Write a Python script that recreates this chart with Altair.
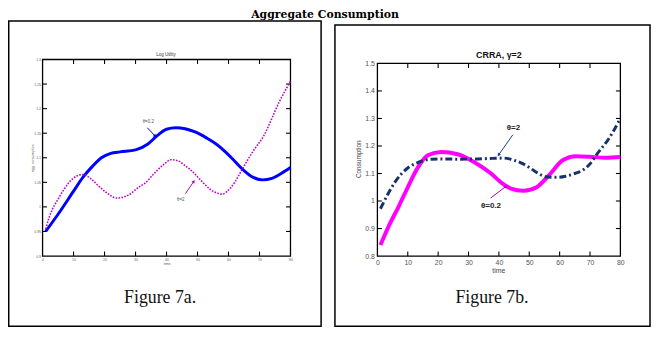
import math
import altair as alt
import pandas as pd

# ---------------- data ----------------
time_ticks = [0, 10, 20, 30, 40, 50, 60, 70, 80]
left_y_ticks = [0.9, 0.95, 1.0, 1.05, 1.1, 1.15, 1.2, 1.25, 1.3]
right_y_ticks = [0.8, 0.9, 1.0, 1.1, 1.2, 1.3, 1.4, 1.5]

# Figure 7a, Log Utility: theta=0.2 (blue solid)
left_t_a = [1, 5, 10, 13, 16, 19, 22, 25, 30, 34, 37, 40, 43, 46, 49, 53, 56, 59, 62, 65, 68, 71, 74, 77, 80]
left_c_a = [0.95, 0.985, 1.032, 1.06, 1.082, 1.1, 1.109, 1.112, 1.116, 1.128, 1.145, 1.158, 1.161, 1.159,
            1.153, 1.14, 1.128, 1.112, 1.093, 1.074, 1.06, 1.055, 1.058, 1.068, 1.08]
# Figure 7a, Log Utility: theta=2 (magenta dotted)
left_t_b = [1, 2.2, 5.4, 8.6, 11, 13, 16, 18, 20.4, 24, 27.7, 31, 33, 36, 39, 41.5, 43.6, 46, 48, 52, 54,
            56.4, 58, 59.6, 62, 64, 68, 71.3, 76.4, 80]
left_c_b = [0.955, 0.98, 1.02, 1.05, 1.063, 1.066, 1.055, 1.043, 1.03, 1.018, 1.024, 1.04, 1.048, 1.068,
            1.086, 1.096, 1.094, 1.084, 1.074, 1.048, 1.036, 1.028, 1.026, 1.032, 1.05, 1.072, 1.114,
            1.144, 1.214, 1.256]
# Figure 7b, CRRA gamma=2: theta=2 (navy dash-dot)
right_t_a = [1, 3.7, 6, 10, 13.4, 17.8, 22, 26.5, 33, 38, 41.6, 45, 48, 50.3, 53, 55.6, 59, 62, 65, 67.6,
             70, 72, 76.4, 80]
right_c_a = [0.972, 1.03, 1.072, 1.12, 1.14, 1.152, 1.153, 1.152, 1.153, 1.155, 1.156, 1.148, 1.135, 1.12,
             1.1, 1.088, 1.086, 1.09, 1.1, 1.112, 1.135, 1.166, 1.23, 1.3]
# Figure 7b, CRRA gamma=2: theta=0.2 (magenta solid)
right_t_b = [1, 3.7, 7, 10, 13.4, 16.6, 21, 26.4, 31.8, 37.4, 41, 44, 48, 52.4, 57, 61, 65.4, 71, 75, 80]
right_c_b = [0.84, 0.908, 0.98, 1.05, 1.123, 1.166, 1.178, 1.17, 1.142, 1.1, 1.065, 1.045, 1.037, 1.05,
             1.1, 1.148, 1.163, 1.16, 1.157, 1.16]

# annotations: label text, label position, arrow start, arrow end
left_labels = ["\u03b8=0.2", "\u03b8=2"]
left_label_pos = [(34.1, 1.172), (44.6, 1.014)]
left_arrows = [((33.8, 1.161), (36.2, 1.145)), ((46.1, 1.027), (48.7, 1.051))]
right_labels = ["\u03b8=2", "\u03b8=0.2"]
right_label_pos = [(44.8, 1.267), (37.4, 0.983)]
right_arrows = [((44.6, 1.241), (40.0, 1.169)), ((37.3, 1.011), (42.2, 1.052))]

# ---------------- layout (pixels, chart coordinates) ----------------
W, H = 651, 342
LX, LY = [35, 286], [249, 50]
RX, RY = [374, 620], [249, 54]
SANS = "Liberation Sans"


def make_panel(xr, yr, ydom, yticks, lab_size, lab_color, lab_pad, curves, labels, label_pos,
               arrows, arrow_colors, label_style, tick_len):
    sx = alt.Scale(domain=[0, 80], range=xr, nice=False, zero=False)
    sy = alt.Scale(domain=ydom, range=yr, nice=False, zero=False)
    ax = alt.Axis(orient="bottom", offset=yr[0] - H, values=time_ticks, format="~r", ticks=False,
                  domain=False, grid=False, labelFontSize=lab_size, labelColor=lab_color,
                  labelPadding=lab_pad, labelFont=SANS, labelFlush=False, labelOverlap=False,
                  title=None)
    ay = alt.Axis(orient="left", offset=-xr[0], values=yticks, format="~r", ticks=False,
                  domain=False, grid=False, labelFontSize=lab_size, labelColor=lab_color,
                  labelPadding=lab_pad, labelFont=SANS, labelFlush=False, labelOverlap=False,
                  title=None)

    def X(f):
        return alt.X(f, type="quantitative", scale=sx, axis=ax)

    def Y(f):
        return alt.Y(f, type="quantitative", scale=sy, axis=ay)

    layers = []
    # frame of the axes
    frame = pd.DataFrame({"x": [0], "x2": [80], "y": [ydom[0]], "y2": [ydom[1]]})
    layers.append(alt.Chart(frame).mark_rect(fill="transparent", stroke="black", strokeWidth=1.3)
                  .encode(x=X("x"), x2="x2", y=Y("y"), y2="y2"))
    # inward ticks
    kx = (xr[1] - xr[0]) / 80.0
    ky = (yr[0] - yr[1]) / (ydom[1] - ydom[0])
    dx, dy = tick_len / kx, tick_len / ky
    rows = []
    for t in time_ticks[1:-1]:
        rows.append({"x": t, "x2": t, "y": ydom[0], "y2": ydom[0] + dy})
        rows.append({"x": t, "x2": t, "y": ydom[1], "y2": ydom[1] - dy})
    for v in yticks[1:-1]:
        rows.append({"x": 0, "x2": dx, "y": v, "y2": v})
        rows.append({"x": 80, "x2": 80 - dx, "y": v, "y2": v})
    layers.append(alt.Chart(pd.DataFrame(rows)).mark_rule(color="black", strokeWidth=1.1)
                  .encode(x=X("x"), x2="x2", y=Y("y"), y2="y2"))
    # curves
    for (ts, cs, style) in curves:
        df = pd.DataFrame({"t": ts, "c": cs})
        layers.append(alt.Chart(df).mark_line(interpolate="monotone", **style)
                      .encode(x=X("t"), y=Y("c")))
    # arrows
    for ((x0, y0), (x1, y1)), col in zip(arrows, arrow_colors):
        df = pd.DataFrame({"x": [x0], "y": [y0], "x2": [x1], "y2": [y1]})
        layers.append(alt.Chart(df).mark_rule(color=col, strokeWidth=1.0)
                      .encode(x=X("x"), y=Y("y"), x2="x2", y2="y2"))
        ang = math.degrees(math.atan2((x1 - x0) * kx, (y1 - y0) * ky)) % 360
        head = pd.DataFrame({"x": [x1], "y": [y1]})
        layers.append(alt.Chart(head).mark_point(shape="triangle", filled=True, color=col,
                                                 size=tick_len * 3, angle=ang, opacity=1)
                      .encode(x=X("x"), y=Y("y")))
    # labels
    lab_df = pd.DataFrame({"x": [p[0] for p in label_pos], "y": [p[1] for p in label_pos],
                           "txt": labels})
    layers.append(alt.Chart(lab_df).mark_text(**label_style)
                  .encode(x=X("x"), y=Y("y"), text="txt:N"))
    return alt.layer(*layers)


left_panel = make_panel(
    LX, LY, [0.9, 1.3], left_y_ticks, 3.6, "#666666", 2,
    [(left_t_a, left_c_a, {"color": "#0000ff", "strokeWidth": 3}),
     (left_t_b, left_c_b, {"color": "#c000c8", "strokeWidth": 1.6, "strokeDash": [1.6, 1.4]})],
    left_labels, left_label_pos, left_arrows, ["#0000ff", "#c000c8"],
    {"font": SANS, "fontSize": 4.5, "color": "#555555"}, 4.5)

right_panel = make_panel(
    RX, RY, [0.8, 1.5], right_y_ticks, 7, "#555555", 3,
    [(right_t_b, right_c_b, {"color": "#ff00ff", "strokeWidth": 4}),
     (right_t_a, right_c_a, {"color": "#17306e", "strokeWidth": 3, "strokeDash": [7, 3, 2, 3]})],
    right_labels, right_label_pos, right_arrows, ["#1f3a9a", "#b000b8"],
    {"font": SANS, "fontSize": 8, "fontWeight": "bold", "color": "#222222"}, 4.5)

one = pd.DataFrame({"k": [0]})


def box(x0, x1, y0, y1):
    return alt.Chart(one).mark_rect(fill="transparent", stroke="black", strokeWidth=1.5).encode(
        x=alt.value(x0), x2=alt.value(x1), y=alt.value(y0), y2=alt.value(y1))


def label(txt, x, y, **kw):
    return alt.Chart(one).mark_text(text=txt, **kw).encode(x=alt.value(x), y=alt.value(y))


deco = alt.layer(
    box(0.75, 317, 11, 320),
    box(331, 650, 15, 320),
    label("Aggregate Consumption", 321, 8, font="DejaVu Serif", fontSize=11, fontWeight="bold",
          baseline="alphabetic", color="black"),
    label("Log Utility", 160, 46, font=SANS, fontSize=4.5, baseline="alphabetic", color="#333333"),
    label("CRRA, \u03b3=2", 497, 48, font=SANS, fontSize=9, fontWeight="bold",
          baseline="alphabetic", color="#111111"),
    label("time", 161, 257, font=SANS, fontSize=3.6, color="#555555"),
    label("agg. consumption", 25, 150, font=SANS, fontSize=3.6, angle=270, color="#666666"),
    label("time", 497, 264, font=SANS, fontSize=7, color="#444444"),
    label("Consumption", 355, 151, font=SANS, fontSize=6.5, angle=270, color="#444444"),
    label("Figure 7a.", 154, 297, font="Liberation Serif", fontSize=18, baseline="alphabetic",
          color="#111111"),
    label("Figure 7b.", 490, 297, font="Liberation Serif", fontSize=18, baseline="alphabetic",
          color="#111111"),
)

chart = alt.layer(left_panel, right_panel, deco).resolve_scale(
    x="independent", y="independent"
).properties(
    width=W, height=H, autosize=alt.AutoSizeParams(type="none"), padding=0,
    background="white"
).configure_view(stroke=None)

chart.save("out.html", embed_options={"renderer": "svg", "actions": False})
